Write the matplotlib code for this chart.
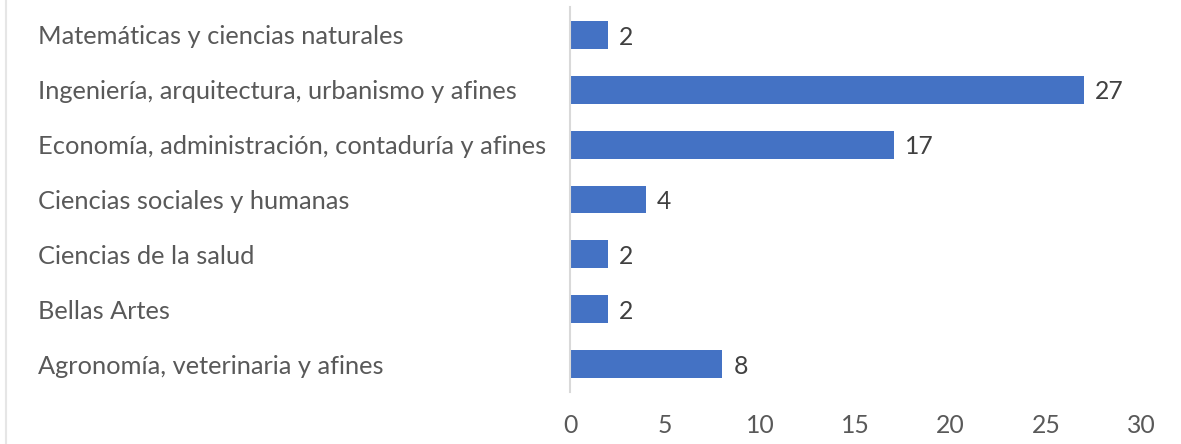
import matplotlib.pyplot as plt
from matplotlib.lines import Line2D

categorias = ['Matemáticas y ciencias naturales',
              'Ingeniería, arquitectura, urbanismo y afines',
              'Economía, administración, contaduría y afines',
              'Ciencias sociales y humanas',
              'Ciencias de la salud',
              'Bellas Artes',
              'Agronomía, veterinaria y afines']
valores = [2, 27, 17, 4, 2, 2, 8]
xticks = [0, 5, 10, 15, 20, 25, 30]

plt.rcParams['font.family'] = ['Lato', 'DejaVu Sans']
gris = '#595959'
fs = 18.3

fig = plt.figure(figsize=(11.81, 4.44), dpi=100)
ax = fig.add_axes([570/1181, 1 - 391.5/444, (1141-570)/1181, (391.5-7.5)/444])

y = list(range(len(categorias)))
ax.barh(y, valores, height=0.51, color='#4472C4')
ax.set_ylim(len(categorias) - 0.5, -0.5)
ax.set_xlim(0, 30)

for yi, v in zip(y, valores):
    ax.annotate(str(v), (v, yi), xytext=(8, -1.5), textcoords='offset points',
                va='center', ha='left', fontsize=fs - 0.5, color='#404040')

ax.set_yticks(y)
ax.set_yticklabels(categorias, ha='left', fontsize=fs, color=gris)
ax.tick_params(axis='y', length=0, pad=(570-38)*0.72)
ax.set_xticks(xticks)
ax.set_xticklabels([str(t) for t in xticks], fontsize=fs - 0.5, color=gris)
ax.tick_params(axis='x', length=0, pad=16)

for s in ['top', 'right', 'bottom']:
    ax.spines[s].set_visible(False)
ax.spines['left'].set_color('#d9d9d9')
ax.spines['left'].set_linewidth(1.5)

fig.add_artist(Line2D([6/1181, 6/1181], [0, 1], color='#e6e6e6', lw=1.5))

fig.savefig('out.png', dpi=100)
